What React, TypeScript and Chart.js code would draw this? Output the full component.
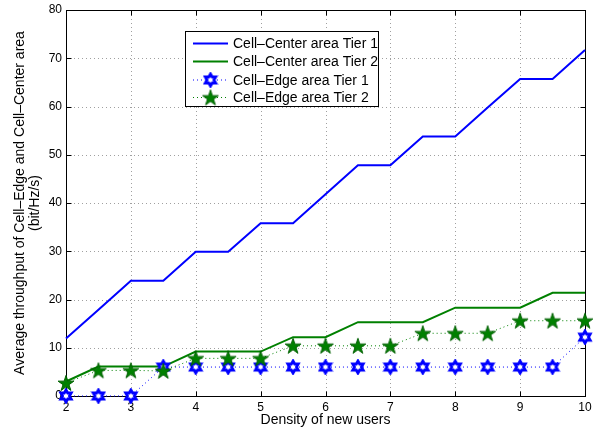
import React, { useEffect, useRef } from "react";
import { Chart, registerables } from "chart.js";

Chart.register(...registerables);

const densities = [2, 2.5, 3, 3.5, 4, 4.5, 5, 5.5, 6, 6.5, 7, 7.5, 8, 8.5, 9, 9.5, 10];
const centerTier1 = [11.9, 17.9, 23.9, 23.9, 29.9, 29.9, 35.8, 35.8, 41.8, 47.8, 47.8, 53.8, 53.8, 59.8, 65.7, 65.7, 71.7];
const centerTier2 = [3.0, 6.1, 6.1, 6.1, 9.2, 9.2, 9.2, 12.2, 12.2, 15.3, 15.3, 15.3, 18.3, 18.3, 18.3, 21.4, 21.4];
const edgeTier1 = [0, 0, 0, 6.0, 6.0, 6.0, 6.0, 6.0, 6.0, 6.0, 6.0, 6.0, 6.0, 6.0, 6.0, 6.0, 12.2];
const edgeTier2 = [2.7, 5.3, 5.3, 5.2, 7.8, 7.8, 7.8, 10.4, 10.4, 10.4, 10.4, 13.0, 13.0, 13.0, 15.6, 15.6, 15.6];
const xTicks = [2, 3, 4, 5, 6, 7, 8, 9, 10];
const yTicks = [0, 10, 20, 30, 40, 50, 60, 70, 80];
const seriesLabels = [
  "Cell\u2013Center area Tier 1",
  "Cell\u2013Center area Tier 2",
  "Cell\u2013Edge area Tier 1",
  "Cell\u2013Edge area Tier 2",
];
const xTitle = "Density of new users";
const yTitle = ["Average throughput of Cell\u2013Edge and Cell\u2013Center area", "(bit/Hz/s)"];

const BLUE = "#0000ff";
const GREEN = "#008000";
const FONT = "'Liberation Sans', Arial, Helvetica, sans-serif";

function starPath(ctx: CanvasRenderingContext2D, cx: number, cy: number, points: number, outer: number, inner: number) {
  ctx.beginPath();
  for (let i = 0; i < points * 2; i++) {
    const r = i % 2 === 0 ? outer : inner;
    const a = -Math.PI / 2 + (i * Math.PI) / points;
    const px = cx + r * Math.cos(a);
    const py = cy + r * Math.sin(a);
    if (i === 0) ctx.moveTo(px, py);
    else ctx.lineTo(px, py);
  }
  ctx.closePath();
}

function makeHexagram(): HTMLCanvasElement {
  const s = 16;
  const c = document.createElement("canvas");
  c.width = s;
  c.height = s;
  const ctx = c.getContext("2d")!;
  starPath(ctx, s / 2, s / 2, 6, 6.0, 6.0 / Math.sqrt(3));
  ctx.fillStyle = "#ffffff";
  ctx.fill();
  ctx.strokeStyle = BLUE;
  ctx.lineWidth = 2.8;
  ctx.lineJoin = "miter";
  ctx.stroke();
  return c;
}

function makePentagram(): HTMLCanvasElement {
  const s = 18;
  const c = document.createElement("canvas");
  c.width = s;
  c.height = s;
  const ctx = c.getContext("2d")!;
  starPath(ctx, s / 2, s / 2 + 0.7, 5, 8.3, 8.3 * 0.382);
  ctx.fillStyle = GREEN;
  ctx.fill();
  ctx.strokeStyle = "#006000";
  ctx.lineWidth = 1;
  ctx.stroke();
  return c;
}

export default function App() {
  const ref = useRef<HTMLCanvasElement | null>(null);

  useEffect(() => {
    if (!ref.current) return;
    const hex = makeHexagram();
    const pent = makePentagram();
    const toPts = (arr: number[]) => densities.map((x, i) => ({ x, y: arr[i] }));

    const framePlugin = {
      id: "frame",
      beforeDatasetsDraw(chart: any) {
        const { ctx, chartArea } = chart;
        const { left, right, top, bottom } = chartArea;
        const x = chart.scales.x;
        const y = chart.scales.y;
        ctx.save();
        ctx.strokeStyle = "#a0a0a0";
        ctx.lineWidth = 1;
        ctx.setLineDash([1, 3]);
        xTicks.forEach((v) => {
          const px = Math.round(x.getPixelForValue(v)) + 0.5;
          if (px <= left + 1 || px >= right - 1) return;
          ctx.beginPath();
          ctx.moveTo(px, bottom);
          ctx.lineTo(px, top);
          ctx.stroke();
        });
        yTicks.forEach((v) => {
          const py = Math.round(y.getPixelForValue(v)) + 0.5;
          if (py <= top + 1 || py >= bottom - 1) return;
          ctx.beginPath();
          ctx.moveTo(left, py);
          ctx.lineTo(right, py);
          ctx.stroke();
        });
        ctx.setLineDash([]);
        ctx.strokeStyle = "#000000";
        ctx.lineWidth = 1;
        const L = Math.round(left) + 0.5;
        const R = Math.round(right) + 0.5;
        const T = Math.round(top) + 0.5;
        const B = Math.round(bottom) + 0.5;
        ctx.strokeRect(L, T, R - L, B - T);
        const tl = 5;
        xTicks.forEach((v) => {
          const px = Math.round(x.getPixelForValue(v)) + 0.5;
          ctx.beginPath();
          ctx.moveTo(px, B);
          ctx.lineTo(px, B - tl);
          ctx.moveTo(px, T);
          ctx.lineTo(px, T + tl);
          ctx.stroke();
        });
        yTicks.forEach((v) => {
          const py = Math.round(y.getPixelForValue(v)) + 0.5;
          ctx.beginPath();
          ctx.moveTo(L, py);
          ctx.lineTo(L + tl, py);
          ctx.moveTo(R, py);
          ctx.lineTo(R - tl, py);
          ctx.stroke();
        });
        ctx.restore();
      },
      afterDatasetsDraw(chart: any) {
        const { ctx } = chart;
        const bx = 185.5;
        const by = 31.5;
        const bw = 193;
        const bh = 75;
        ctx.save();
        ctx.fillStyle = "#ffffff";
        ctx.fillRect(bx, by, bw, bh);
        ctx.strokeStyle = "#000000";
        ctx.lineWidth = 1;
        ctx.strokeRect(bx, by, bw, bh);
        const rows = [43.5, 61.5, 80, 97.5];
        const styles = [
          { color: BLUE, dash: [] as number[], width: 2, marker: null as any },
          { color: GREEN, dash: [] as number[], width: 2, marker: null as any },
          { color: BLUE, dash: [1, 3], width: 1, marker: hex },
          { color: GREEN, dash: [1, 3], width: 1, marker: pent },
        ];
        ctx.font = `14px ${FONT}`;
        ctx.textBaseline = "middle";
        ctx.textAlign = "left";
        rows.forEach((ry, i) => {
          const st = styles[i];
          ctx.strokeStyle = st.color;
          ctx.lineWidth = st.width;
          ctx.setLineDash(st.dash);
          ctx.beginPath();
          ctx.moveTo(193, ry);
          ctx.lineTo(228, ry);
          ctx.stroke();
          ctx.setLineDash([]);
          if (st.marker) {
            const m = st.marker as HTMLCanvasElement;
            ctx.drawImage(m, 210.5 - m.width / 2, ry - m.height / 2);
          }
          ctx.fillStyle = "#000000";
          ctx.fillText(seriesLabels[i], 233, ry + 1);
        });
        ctx.restore();
      },
    };

    const chart = new Chart(ref.current, {
      type: "line",
      data: {
        datasets: [
          {
            label: seriesLabels[0],
            data: toPts(centerTier1),
            borderColor: BLUE,
            backgroundColor: BLUE,
            borderWidth: 2,
            pointRadius: 0,
            tension: 0,
            clip: false,
            order: 4,
          },
          {
            label: seriesLabels[1],
            data: toPts(centerTier2),
            borderColor: GREEN,
            backgroundColor: GREEN,
            borderWidth: 2,
            pointRadius: 0,
            tension: 0,
            clip: false,
            order: 3,
          },
          {
            label: seriesLabels[2],
            data: toPts(edgeTier1),
            borderColor: BLUE,
            backgroundColor: BLUE,
            borderWidth: 1,
            borderDash: [1, 3],
            pointStyle: hex as any,
            pointRadius: 8,
            tension: 0,
            clip: false,
            order: 2,
          },
          {
            label: seriesLabels[3],
            data: toPts(edgeTier2),
            borderColor: GREEN,
            backgroundColor: GREEN,
            borderWidth: 1,
            borderDash: [1, 3],
            pointStyle: pent as any,
            pointRadius: 9,
            tension: 0,
            clip: false,
            order: 1,
          },
        ],
      },
      options: {
        animation: false,
        responsive: false,
        maintainAspectRatio: false,
        events: [],
        layout: { padding: { left: 0, top: 0, right: 16, bottom: 0 } },
        plugins: {
          legend: { display: false },
          tooltip: { enabled: false },
        },
        scales: {
          x: {
            type: "linear",
            min: 2,
            max: 10,
            grid: { display: false, drawTicks: false },
            border: { display: false },
            afterBuildTicks: (s: any) => {
              s.ticks = xTicks.map((v) => ({ value: v }));
            },
            afterFit: (s: any) => {
              s.height = 38;
            },
            ticks: {
              color: "#000",
              padding: 4,
              maxRotation: 0,
              autoSkip: false,
              font: { family: FONT, size: 12 },
            },
            title: {
              display: true,
              text: xTitle,
              color: "#000",
              font: { family: FONT, size: 14, lineHeight: 1.2 },
              padding: { top: 0, bottom: 5 },
            },
          },
          y: {
            type: "linear",
            min: 0,
            max: 80,
            grid: { display: false, drawTicks: false },
            border: { display: false },
            afterBuildTicks: (s: any) => {
              s.ticks = yTicks.map((v) => ({ value: v }));
            },
            afterFit: (s: any) => {
              s.width = 66;
              s.paddingTop = 6;
              s.paddingBottom = 0;
            },
            ticks: {
              color: "#000",
              padding: 4,
              autoSkip: false,
              font: { family: FONT, size: 12 },
            },
            title: {
              display: true,
              text: yTitle,
              color: "#000",
              font: { family: FONT, size: 14, lineHeight: 1.1 },
              padding: { top: 12, bottom: 0 },
            },
          },
        },
      },
      plugins: [framePlugin],
    } as any);

    return () => chart.destroy();
  }, []);

  return (
    <div style={{ position: "fixed", left: 0, top: 0, width: 601, height: 434, background: "#fff" }}>
      <canvas ref={ref} width={601} height={434} style={{ display: "block", width: 601, height: 434 }} />
    </div>
  );
}
